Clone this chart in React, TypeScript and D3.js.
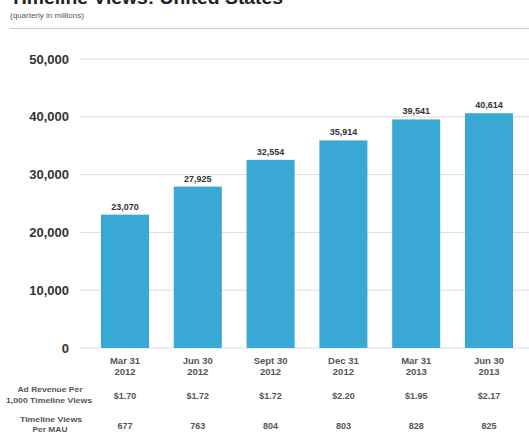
import React from "react";
import * as d3 from "d3";

const quarters = ["Mar 31|2012", "Jun 30|2012", "Sept 30|2012", "Dec 31|2012", "Mar 31|2013", "Jun 30|2013"];
const views = [23070, 27925, 32554, 35914, 39541, 40614];
const adRevenue = ["$1.70", "$1.72", "$1.72", "$2.20", "$1.95", "$2.17"];
const viewsPerMau = ["677", "763", "804", "803", "828", "825"];
const yTicks = [0, 10000, 20000, 30000, 40000, 50000];

const W = 529;
const H = 439;
const FONT = "'Liberation Sans', Arial, Helvetica, sans-serif";

export default function App() {
  const x = d3.scaleBand<string>().domain(quarters).range([88.6, 525.4]).paddingInner(0.34).paddingOuter(0.17);
  const y = d3.scaleLinear().domain([0, 50000]).range([348, 59]);
  const fmt = d3.format(",");
  const bw = x.bandwidth();

  return (
    <svg width={W} height={H} style={{ position: "absolute", left: 0, top: 0, background: "#fff" }} fontFamily={FONT}>
      <text x={10} y={4} fontSize={18} fontWeight="bold" fill="#222" textLength={273} lengthAdjust="spacingAndGlyphs">
        Timeline Views: United States
      </text>
      <text x={10} y={18} fontSize={8} fill="#555">(quarterly in millions)</text>
      <line x1={10} x2={W} y1={28.5} y2={28.5} stroke="#c8c8c8" strokeWidth={1} />

      {yTicks.map((t) => (
        <g key={t}>
          <line x1={80} x2={W} y1={y(t)} y2={y(t)} stroke="#dcdcdc" strokeWidth={1} />
          <text x={69} y={y(t)} dy="0.35em" textAnchor="end" fontSize={13} fontWeight="bold" fill="#333">
            {fmt(t)}
          </text>
        </g>
      ))}

      {quarters.map((q, i) => {
        const bx = x(q)!;
        const cx = bx + bw / 2;
        const [l1, l2] = q.split("|");
        return (
          <g key={q}>
            <rect x={bx} y={y(views[i])} width={bw} height={y(0) - y(views[i])} fill="#3aa8d4" />
            <text x={cx} y={y(views[i]) - 5} textAnchor="middle" fontSize={9} fontWeight="bold" fill="#333">
              {fmt(views[i])}
            </text>
            <text x={cx} y={363.5} textAnchor="middle" fontSize={9.5} fontWeight="bold" fill="#555">{l1}</text>
            <text x={cx} y={374.5} textAnchor="middle" fontSize={9.5} fontWeight="bold" fill="#555">{l2}</text>
            <text x={cx} y={398.5} textAnchor="middle" fontSize={9} fontWeight="bold" fill="#555">{adRevenue[i]}</text>
            <text x={cx} y={429} textAnchor="middle" fontSize={9} fontWeight="bold" fill="#555">{viewsPerMau[i]}</text>
          </g>
        );
      })}

      <text x={50} y={391.5} textAnchor="middle" fontSize={7} fontWeight="bold" fill="#555" textLength={65} lengthAdjust="spacingAndGlyphs">Ad Revenue Per</text>
      <text x={49} y={402.5} textAnchor="middle" fontSize={7} fontWeight="bold" fill="#555" textLength={86} lengthAdjust="spacingAndGlyphs">1,000 Timeline Views</text>
      <text x={51} y={421.5} textAnchor="middle" fontSize={7} fontWeight="bold" fill="#555" textLength={62} lengthAdjust="spacingAndGlyphs">Timeline Views</text>
      <text x={50} y={431.5} textAnchor="middle" fontSize={7} fontWeight="bold" fill="#555" textLength={35} lengthAdjust="spacingAndGlyphs">Per MAU</text>
    </svg>
  );
}
